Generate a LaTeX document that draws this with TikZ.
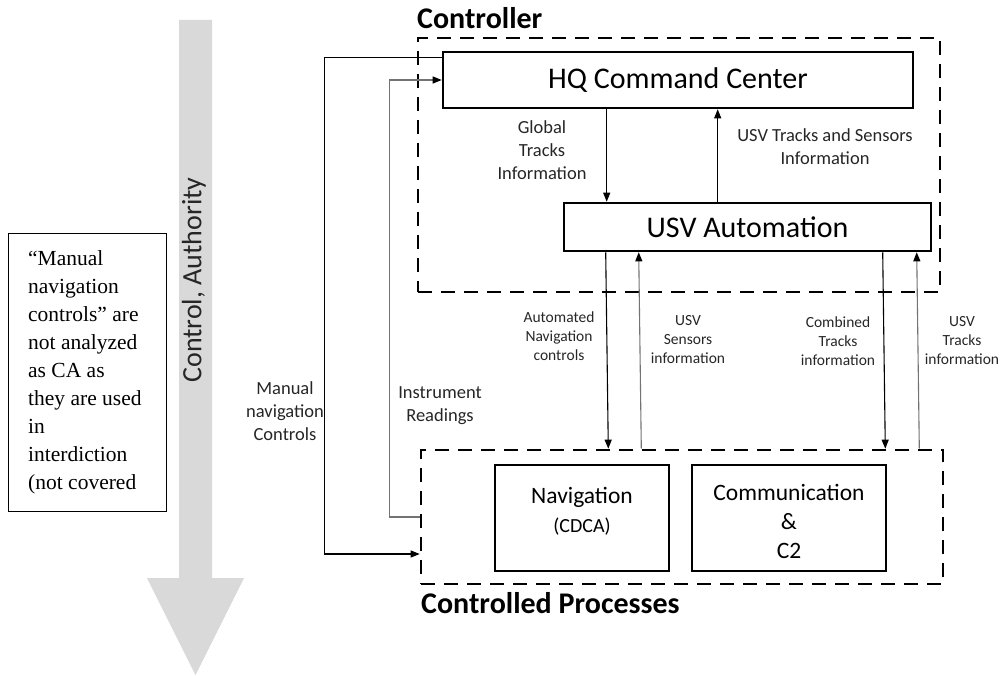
\documentclass[tikz,border=0pt]{standalone}
\usepackage{fontspec}
\setmainfont{Carlito}
\newfontfamily\notefont{Liberation Serif}
\usetikzlibrary{arrows.meta}

\begin{document}
\begin{tikzpicture}[x=1pt,y=-1pt,
  box/.style={draw, line width=2.6pt, inner sep=0pt, align=center},
  group/.style={draw, line width=2.6pt, dash pattern=on 14pt off 9pt, inner sep=0pt},
  flow/.style={line width=1.1pt, -{Triangle[length=9pt,width=7pt,color=black]}},
  back/.style={flow, draw=black!55},
  lbl/.style={align=center, inner sep=0pt, font=\fontsize{18.5}{23}\selectfont, text=black!85},
  slbl/.style={align=center, inner sep=0pt, font=\fontsize{15.5}{19}\selectfont, text=black!85},
  title/.style={anchor=base west, inner sep=0pt, font=\fontsize{30}{36}\selectfont\bfseries}
]
\useasboundingbox (0,0) rectangle (1003,676);

% authority arrow on the left
\fill[black!15] (179,20) -- (212,20) -- (212,578) -- (244,578) -- (195.5,675)
  -- (147,578) -- (179,578) -- cycle;
\node[rotate=90, inner sep=0pt, font=\fontsize{28}{34}\selectfont, text=black!85]
  (authority) at (194,280) {Control, Authority};

% side note
\node[draw, line width=1.1pt, anchor=north west, minimum width=158pt,
  minimum height=278pt, inner sep=0pt] (note) at (8,233) {};
\node[anchor=north west, inner sep=0pt, align=left,
  font=\notefont\fontsize{21.5}{28}\selectfont] (notetext) at ([xshift=20pt,yshift=-17pt]note.north west)
  {“Manual\\navigation\\controls” are\\not analyzed\\as CA as\\they are used\\in\\interdiction\\(not covered};

% group frames
\node[group, minimum width=522pt, minimum height=254pt] (ctrl) at (679,165) {};
\node[group, minimum width=522pt, minimum height=134pt] (cp) at (682,517) {};
\node[title] (ctrltitle) at (417,29) {Controller};
\node[title] (cptitle) at (421,613) {Controlled Processes};

% controller blocks
\node[box, minimum width=470pt, minimum height=56pt, font=\fontsize{30}{36}\selectfont]
  (hq) at (678,80) {HQ Command Center};
\node[box, minimum width=367pt, minimum height=48pt, font=\fontsize{30}{36}\selectfont]
  (usv) at (747.5,227) {USV Automation};

% controlled process blocks
\node[box, minimum width=174pt, minimum height=106pt] (nav) at (582,518) {};
\node[align=center, inner sep=0pt, font=\fontsize{23.5}{29}\selectfont] (navtext)
  at ([yshift=7pt]nav.center) {Navigation\\{\fontsize{20}{24}\selectfont (CDCA)}};
\node[box, minimum width=194pt, minimum height=106pt] (comm) at (789,518) {};
\node[align=center, inner sep=0pt, font=\fontsize{23.5}{29}\selectfont] (commtext)
  at ([yshift=-3pt]comm.center) {Communication\\\&\\C2};

% flows inside the controller
\draw[flow] ([xshift=165pt]hq.south west) -- ([xshift=44pt]usv.north west);
\draw[flow] ([xshift=155pt]usv.north west) -- ([xshift=276pt]hq.south west);
\node[lbl] (globallbl) at (542,150) {Global\\Tracks\\Information};
\node[lbl] (usvtslbl) at (825,147) {USV Tracks and Sensors\\Information};

% flows between controller and controlled processes
\draw[flow] ([xshift=43pt]usv.south west) -- ([xshift=-336pt]cp.north east);
\draw[back] ([xshift=-303pt]cp.north east) -- ([xshift=76pt]usv.south west);
\draw[flow] ([xshift=320pt]usv.south west) -- ([xshift=-59pt]cp.north east);
\draw[back] ([xshift=-25pt]cp.north east) -- ([xshift=354pt]usv.south west);
\node[slbl] (autolbl) at (559,336) {Automated\\Navigation\\controls};
\node[slbl] (senslbl) at (688,340) {USV\\Sensors\\information};
\node[slbl] (comblbl) at (838,341) {Combined\\Tracks\\information};
\node[slbl] (trklbl) at (962,341) {USV\\Tracks\\information};

% manual path and instrument readings
\draw[flow] ([yshift=-7pt]hq.north west) -- ++(-117,0) |- ([yshift=-37pt]cp.west);
\draw[back] (cp.west) -- ++(-30,0) |- (hq.west);
\node[lbl] (manuallbl) at (285,411) {Manual\\navigation\\Controls};
\node[lbl] (instrlbl) at (440,406) {Instrument\\Readings};
\end{tikzpicture}
\end{document}
